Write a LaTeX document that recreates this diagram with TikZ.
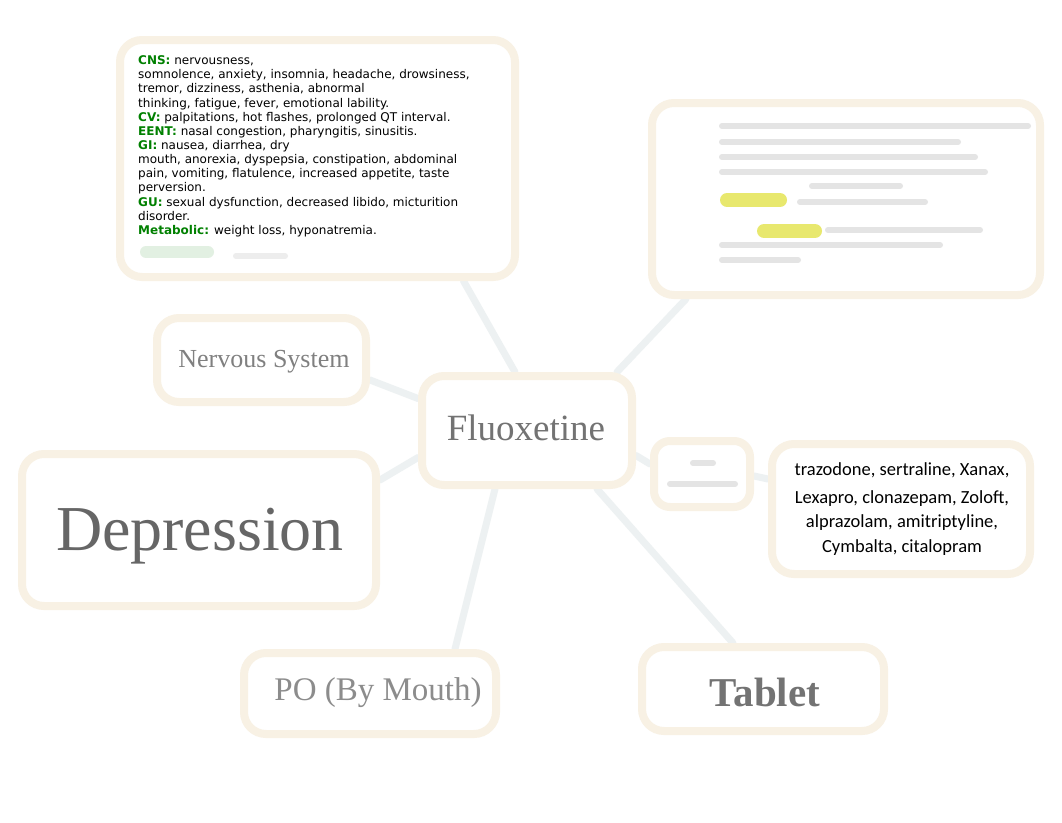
\documentclass[tikz,border=0pt]{standalone}
\usepackage{fontspec}
\setmainfont{Liberation Serif}
\newfontfamily\dejavu{DejaVu Sans}
\newfontfamily\carlito{Carlito}
\usetikzlibrary{backgrounds,calc}
\definecolor{bord}{RGB}{248,241,228}
\definecolor{conn}{RGB}{237,241,242}
\definecolor{grn}{RGB}{0,128,0}
\definecolor{blurgray}{RGB}{228,228,228}
\definecolor{hl}{RGB}{232,232,110}
\definecolor{blurgreen}{RGB}{226,240,226}
\tikzset{
  box/.style={draw=bord, line width=8pt, rounded corners=22pt, fill=white, inner sep=0pt},
  link/.style={draw=conn, line width=7pt, line cap=round},
  bar/.style={draw=blurgray, line width=6pt, line cap=round},
  hilite/.style={draw=hl, line width=14pt, line cap=round},
  ghost/.style={font=\fontsize{#1}{#1}\selectfont, inner sep=0pt},
}
\begin{document}
\begin{tikzpicture}[x=1pt,y=-1pt]
\path[use as bounding box] (0,0) rectangle (1062,822);

% boxes
\node[box, minimum width=395pt, minimum height=237pt] (cns) at (317.5,158.5) {};
\node[box, minimum width=388pt, minimum height=192pt] (tr) at (846,199) {};
\node[box, minimum width=209pt, minimum height=84pt] (nerv) at (261.5,360) {};
\node[box, minimum width=210pt, minimum height=109pt] (flu) at (527,430.5) {};
\node[box, minimum width=96pt, minimum height=66pt, rounded corners=16pt] (small) at (702,474) {};
\node[box, minimum width=258pt, minimum height=130pt] (drugs) at (901,509) {};
\node[box, minimum width=354pt, minimum height=152pt] (dep) at (199,530) {};
\node[box, minimum width=252pt, minimum height=81pt] (po) at (370,693.5) {};
\node[box, minimum width=242pt, minimum height=84pt] (tab) at (763,689) {};

% connectors
\begin{scope}[on background layer]
  \fill[white] (0,0) rectangle (1062,822);
  \draw[link] ($(cns.south)+(146,0)$) -- ($(flu.north)+(-12,0)$);
  \draw[link] ($(tr.south)+(-160,0)$) -- ($(flu.north)+(90,0)$);
  \draw[link] ($(nerv.east)+(0,20)$) -- ($(flu.west)+(0,-32)$);
  \draw[link] ($(dep.east)+(0,-50)$) -- ($(flu.west)+(0,27)$);
  \draw[link] ($(po.north)+(85,0)$) -- ($(flu.south)+(-32,0)$);
  \draw[link] ($(tab.north)+(-30,0)$) -- ($(flu.south)+(70,0)$);
  \draw[link] ($(flu.east)+(0,25)$) -- ($(small.west)+(0,-10)$);
  \draw[link] ($(small.east)+(0,2)$) -- ($(drugs.west)+(0,-30)$);
\end{scope}

% CNS text
\node[anchor=north west, inner sep=0pt, align=left,
      font=\dejavu\fontsize{12}{14.15}\selectfont] (cnstext) at (138,55.5)
{\textcolor{grn}{\bfseries CNS:} nervousness,\\
somnolence, anxiety, insomnia, headache, drowsiness,\\
tremor, dizziness, asthenia, abnormal\\
thinking, fatigue, fever, emotional lability.\\
\textcolor{grn}{\bfseries CV:} palpitations, hot flashes, prolonged QT interval.\\
\textcolor{grn}{\bfseries EENT:} nasal congestion, pharyngitis, sinusitis.\\
\textcolor{grn}{\bfseries GI:} nausea, diarrhea, dry\\
mouth, anorexia, dyspepsia, constipation, abdominal\\
pain, vomiting, flatulence, increased appetite, taste\\
perversion.\\
\textcolor{grn}{\bfseries GU:} sexual dysfunction, decreased libido, micturition\\
disorder.\\
\textcolor{grn}{\bfseries Metabolic:} weight loss, hyponatremia.};
% blurred remnants in CNS box
\draw[draw=blurgreen, line width=12pt, line cap=round] (146,252) -- (208,252);
\draw[bar, draw=black!7] (236,256) -- (285,256);

% blurred content of the top-right box
\draw[bar] (722,126) -- (1028,126);
\draw[bar] (722,142) -- (958,142);
\draw[bar] (722,157) -- (975,157);
\draw[bar] (722,172) -- (985,172);
\draw[bar] (812,186) -- (900,186);
\draw[hilite] (727,200) -- (780,200);
\draw[bar] (800,202) -- (925,202);
\draw[hilite] (764,231) -- (815,231);
\draw[bar] (828,230) -- (980,230);
\draw[bar] (722,245) -- (940,245);
\draw[bar] (722,260) -- (798,260);

% blurred content of the small box
\draw[bar] (693,463) -- (713,463);
\draw[bar] (670,484) -- (735,484);

% drug list
\node[anchor=north, inner sep=0pt, align=center,
      font=\carlito\fontsize{18.5}{24.5}\selectfont] (drugtext) at (902,462)
{trazodone, sertraline, Xanax,\\[3.5pt]
Lexapro, clonazepam, Zoloft,\\
alprazolam, amitriptyline,\\
Cymbalta, citalopram};

% blurred labels
\node[ghost=26, anchor=base, text=black!50] (nervtext) at (264,367) {Nervous System};
\node[ghost=37, anchor=base, text=black!55] (flutext) at (526,440) {Fluoxetine};
\node[ghost=64, anchor=base, text=black!60] (deptext) at (200,550) {Depression};
\node[ghost=33, anchor=base, text=black!45] (potext) at (378,700) {PO (By Mouth)};
\node[anchor=base, inner sep=0pt, text=black!55,
      font={\fontsize{41}{41}\selectfont\bfseries}] (tabtext) at (765,706) {Tablet};
\end{tikzpicture}
\end{document}
